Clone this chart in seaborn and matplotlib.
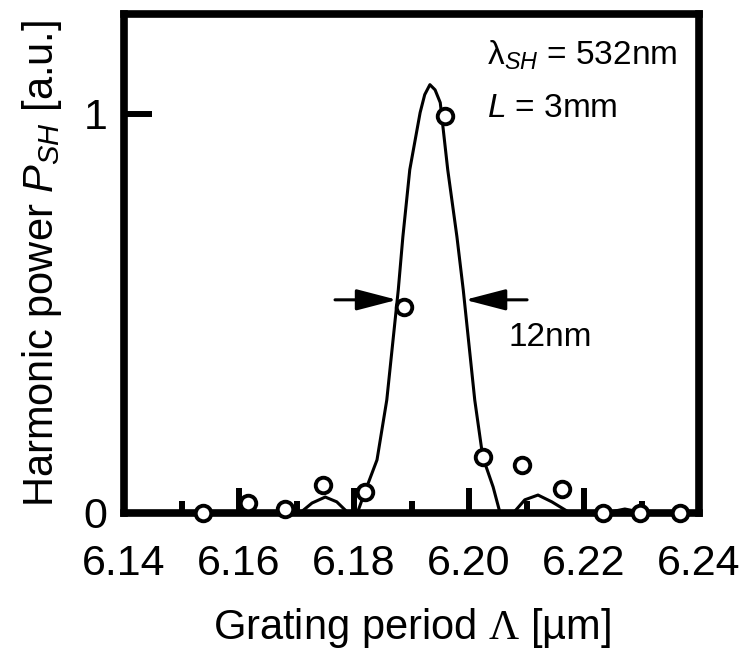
import matplotlib
matplotlib.use("Agg")
import matplotlib.pyplot as plt
import seaborn as sns
import pandas as pd
from matplotlib.ticker import FixedLocator

# measured points
meas_x = [6.1537, 6.1616, 6.1680, 6.1746, 6.1819, 6.1887, 6.1958,
          6.2024, 6.2092, 6.2162, 6.2233, 6.2297, 6.2367]
meas_y = [0.0, 0.025, 0.010, 0.070, 0.053, 0.517, 0.995,
          0.140, 0.120, 0.060, 0.0, 0.0, 0.0]

# theoretical curve
curve_x = [6.1445, 6.1600, 6.1706, 6.1727, 6.1750, 6.1770, 6.1790, 6.1807,
           6.1819, 6.1840, 6.1857, 6.1877, 6.1885, 6.1897, 6.1915, 6.1923,
           6.1932, 6.1941, 6.1950, 6.1963, 6.1979, 6.1990, 6.2010, 6.2024,
           6.2042, 6.2054, 6.2077, 6.2097, 6.2120, 6.2144, 6.2176, 6.2237,
           6.2271, 6.2306, 6.2380]
curve_y = [0.0, 0.0, 0.0, 0.025, 0.040, 0.028, 0.0, 0.005,
           0.053, 0.133, 0.283, 0.559, 0.692, 0.860, 1.003, 1.048,
           1.073, 1.060, 1.028, 0.860, 0.692, 0.559, 0.283, 0.140,
           0.065, 0.0, 0.0, 0.033, 0.045, 0.028, 0.0, 0.0,
           0.010, 0.0, 0.0]

xtick_vals = [6.14, 6.16, 6.18, 6.20, 6.22, 6.24]
xtick_labels = ["6.14", "6.16", "6.18", "6.20", "6.22", "6.24"]
xminor_vals = [6.15, 6.17, 6.19, 6.21, 6.23]
ytick_vals = [0, 1]
ytick_labels = ["0", "1"]

sns.set_style("white")
plt.rcParams["font.family"] = ["Liberation Sans", "DejaVu Sans"]
plt.rcParams["mathtext.fontset"] = "custom"
plt.rcParams["mathtext.rm"] = "Liberation Sans"
plt.rcParams["mathtext.it"] = "Liberation Sans:italic"
plt.rcParams["mathtext.sf"] = "Liberation Serif"
for k in ["text.color", "axes.labelcolor", "xtick.color", "ytick.color",
          "axes.edgecolor"]:
    plt.rcParams[k] = "black"

fig = plt.figure(figsize=(7.5, 6.55), dpi=100)
ax = fig.add_axes([124 / 750, 1 - 513 / 655, 575 / 750, 499 / 655])

curve_df = pd.DataFrame({"x": curve_x, "y": curve_y})
meas_df = pd.DataFrame({"x": meas_x, "y": meas_y})

sns.lineplot(data=curve_df, x="x", y="y", ax=ax, color="black", lw=2.2,
             sort=False, estimator=None, zorder=3)
sns.scatterplot(data=meas_df, x="x", y="y", ax=ax, s=125, marker="o",
                facecolor="white", edgecolor="black", linewidth=2.8,
                zorder=5, clip_on=False)

ax.set_xlim(6.14, 6.24)
ax.set_ylim(0, 1.25)

for sp in ax.spines.values():
    sp.set_linewidth(5.5)
    sp.set_color("black")
    sp.set_zorder(4)

ax.xaxis.set_major_locator(FixedLocator(xtick_vals))
ax.xaxis.set_minor_locator(FixedLocator(xminor_vals))
ax.set_xticks(xtick_vals)
ax.set_xticklabels(xtick_labels)
ax.set_yticks(ytick_vals)
ax.set_yticklabels(ytick_labels)
ax.tick_params(axis="x", which="major", direction="in", length=18, width=4.3,
               labelsize=31, pad=22, color="black", labelcolor="black",
               bottom=True)
ax.tick_params(axis="x", which="minor", direction="in", length=8.5, width=4.3,
               color="black", bottom=True)
ax.tick_params(axis="y", which="major", direction="in", length=20, width=4.3,
               labelsize=31, pad=12, color="black", labelcolor="black",
               left=True)

ax.set_xlabel(r"Grating period $\mathsf{\Lambda}$ [µm]", fontsize=30,
              labelpad=16, color="black")
ax.set_ylabel(r"Harmonic power $P_{SH}$ [a.u.]", fontsize=30, labelpad=14,
              color="black")

ax.text(0.632, 0.898, r"$\mathrm{\lambda}_{SH}$ = 532nm", transform=ax.transAxes,
        fontsize=24, ha="left", va="baseline", color="black")
ax.text(0.632, 0.794, r"$L$ = 3mm", transform=ax.transAxes,
        fontsize=24, ha="left", va="baseline", color="black")

arrow_y = 0.534
ax.annotate("", xy=(6.1875, arrow_y), xytext=(6.1767, arrow_y),
            arrowprops=dict(arrowstyle="-|>,head_length=2.5,head_width=0.65",
                            mutation_scale=10, lw=2.2, color="black",
                            shrinkA=0, shrinkB=0))
ax.annotate("", xy=(6.1993, arrow_y), xytext=(6.2101, arrow_y),
            arrowprops=dict(arrowstyle="-|>,head_length=2.5,head_width=0.65",
                            mutation_scale=10, lw=2.2, color="black",
                            shrinkA=0, shrinkB=0))
ax.text(6.2068, 0.44, "12nm", fontsize=24, ha="left", va="center",
        color="black")

fig.savefig("out.png", dpi=100)
